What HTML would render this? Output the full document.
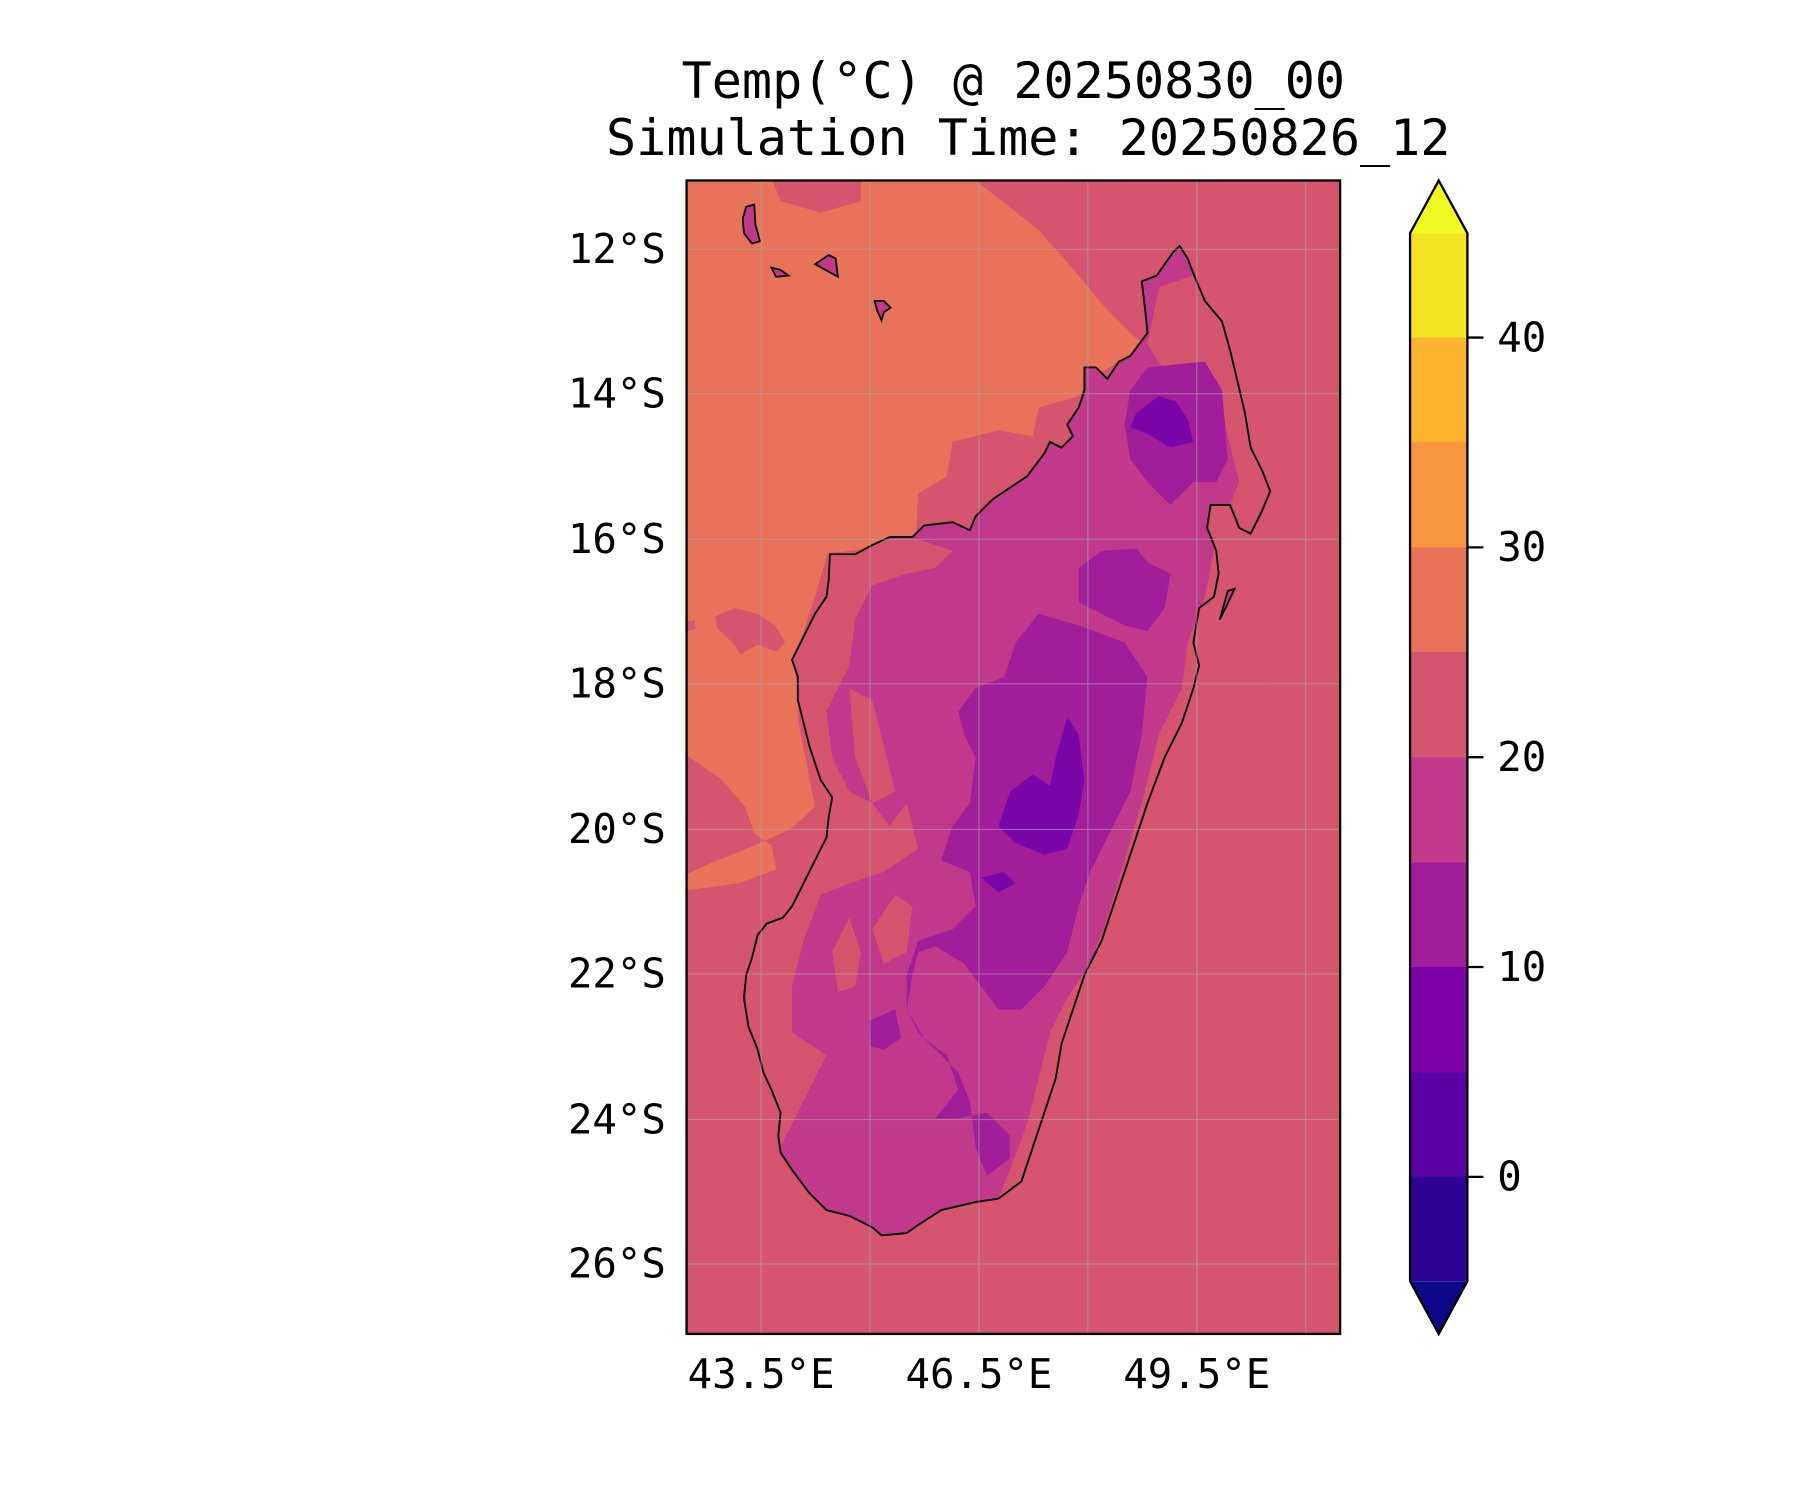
<!DOCTYPE html>
<html><head><meta charset="utf-8"><style>html,body{margin:0;padding:0;background:#fff}svg{display:block}</style></head>
<body>
<svg width="1800" height="1500" viewBox="0 0 1560 1300" xmlns="http://www.w3.org/2000/svg" font-family="'DejaVu Sans Mono','Liberation Mono',monospace">
<rect width="1560" height="1300" fill="#fff"/>
<g transform="translate(0.8,0.4) scale(0.9937)">
<text x="883" y="85" font-size="43.7" text-anchor="middle">Temp(°C) @ 20250830_00</text>
<text x="896" y="135" font-size="43.7" text-anchor="middle">Simulation Time: 20250826_12</text>
<defs><clipPath id="c"><rect x="598" y="157" width="570" height="1006"/></clipPath>
<clipPath id="isl"><path id="ip" d="M1028,214 L1035,225 1040,238 1050,262 1065,280 1072,305 1078,330 1085,360 1090,390 1100,410 1107,428 1100,445 1090,465 1080,460 1072,440 1055,440 1052,460 1060,480 1062,500 1058,520 1045,530 1040,560 1045,580 1040,600 1030,630 1015,660 1000,700 990,730 980,760 970,790 960,820 945,850 935,880 925,910 920,940 910,970 900,1000 890,1030 870,1045 850,1048 820,1055 800,1068 790,1075 768,1077 760,1070 740,1060 720,1055 705,1040 690,1020 680,1005 678,990 680,970 672,950 665,935 660,915 652,895 648,870 650,850 655,835 660,815 668,805 682,800 690,790 700,770 710,750 720,730 722,712 725,695 715,680 710,665 705,650 700,630 695,610 695,590 690,575 700,555 710,535 720,520 722,505 723,483 745,483 760,475 775,468 795,468 805,458 830,455 845,462 850,450 865,435 880,425 895,415 910,395 915,385 925,390 935,380 930,370 940,355 945,340 945,320 955,320 965,330 975,315 985,310 1000,290 998,270 995,245 1008,240 1015,230 1022,220 Z"/></clipPath></defs>
<g clip-path="url(#c)">
<rect x="598" y="157" width="570" height="1006" fill="#d5546e"/>
<path fill="#e8735a" d="M598,157 L673,157 680,175 715,185 750,175 750,157 850,157 905,200 940,240 965,270 990,295 1000,300 950,330 940,345 905,355 900,380 870,375 830,385 825,415 800,430 798,470 760,478 721,482 710,520 695,566 695,627 710,703 690,722 666,733 657,726 649,703 628,679 599,659 598,659 Z"/>
<path fill="#e8735a" d="M666,733 L672,737 676,758 643,770 599,776 598,776 598,762 620,752 645,742 Z"/>
<path fill="#d5546e" d="M623,537 L640,530 660,535 675,545 684,560 676,568 660,562 645,570 638,560 625,548 Z"/>
<path fill="#d5546e" d="M598,542 L605,540 606,548 598,550 Z"/>
<use href="#ip" fill="#c0398a"/>
<g clip-path="url(#isl)">
<path fill="#d5546e" d="M1100,300 L1040,240 1010,250 1000,300 1020,330 1060,330 1070,380 1080,420 1060,470 1050,520 1035,560 1030,600 1010,640 995,700 980,750 965,800 950,840 930,870 915,900 905,940 895,980 880,1020 870,1045 900,1050 1000,900 1120,500 Z"/>
<path fill="#d5546e" d="M720,470 L800,470 830,480 815,495 790,500 760,510 745,540 740,580 720,620 725,660 740,690 760,700 775,720 790,700 800,740 770,760 740,770 715,780 700,820 690,860 690,900 720,920 700,960 680,1000 650,900 650,780 700,700 690,560 Z"/>
<path fill="#d5546e" d="M740,600 L760,610 770,650 780,690 760,700 745,660 Z"/>
<path fill="#d5546e" d="M780,780 L795,790 790,830 770,840 760,810 Z"/>
<path fill="#d5546e" d="M740,800 L750,830 745,860 730,865 725,830 Z"/>
<path fill="#a21d9a" d="M1000,320 L1050,315 1065,340 1070,400 1060,420 1040,420 1020,440 1000,420 985,400 980,370 985,340 Z"/>
<path fill="#a21d9a" d="M940,495 L960,480 990,478 1000,490 1020,500 1015,530 1000,550 980,545 960,535 940,525 Z"/>
<path fill="#a21d9a" d="M905,535 L940,545 980,560 1000,590 995,640 985,690 965,730 950,760 940,790 930,830 910,860 890,880 870,880 855,860 840,840 815,825 800,830 795,850 790,880 805,905 825,920 835,950 815,975 835,975 860,970 880,990 880,1010 860,1025 850,1000 845,960 835,935 820,920 800,900 790,880 790,850 800,820 830,810 850,790 845,760 820,750 830,720 845,700 850,660 840,640 835,620 850,600 875,590 885,560 Z"/>
<path fill="#a21d9a" d="M757,890 L780,880 785,905 770,915 758,912 Z"/>
<path fill="#7b06a8" d="M990,360 L1010,345 1025,350 1035,365 1040,385 1020,390 1000,378 985,372 Z"/>
<path fill="#7b06a8" d="M880,690 L900,675 915,685 920,660 930,625 940,640 945,680 940,710 930,740 910,745 885,735 870,720 Z"/>
<path fill="#7b06a8" d="M855,765 L875,760 885,770 870,778 Z"/>
</g>
<use href="#ip" fill="none" stroke="#000" stroke-width="1.6" stroke-linejoin="round"/>
<g fill="#c0398a" stroke="#000" stroke-width="1.5">
<path d="M650,180 L657,178 658,195 662,210 655,212 648,203 647,190 Z"/>
<path d="M672,233 L680,235 687,240 676,241 Z"/>
<path d="M710,230 L722,222 728,225 730,241 Z"/>
<path d="M762,262 L770,262 776,268 770,272 768,279 764,270 Z"/>
<path d="M1070,515 L1076,513 1068,530 1063,540 Z"/>
</g>
<g stroke="#aaa" stroke-width="1" opacity="0.55">
<line x1="663" y1="157" x2="663" y2="1163"/><line x1="758" y1="157" x2="758" y2="1163"/><line x1="853" y1="157" x2="853" y2="1163"/><line x1="948" y1="157" x2="948" y2="1163"/><line x1="1043" y1="157" x2="1043" y2="1163"/><line x1="1138" y1="157" x2="1138" y2="1163"/>
<line x1="598" y1="217" x2="1168" y2="217"/><line x1="598" y1="343" x2="1168" y2="343"/><line x1="598" y1="470" x2="1168" y2="470"/><line x1="598" y1="596" x2="1168" y2="596"/><line x1="598" y1="723" x2="1168" y2="723"/><line x1="598" y1="849" x2="1168" y2="849"/><line x1="598" y1="976" x2="1168" y2="976"/><line x1="598" y1="1102" x2="1168" y2="1102"/>
</g>
</g>
<rect x="598" y="157" width="570" height="1006" fill="none" stroke="#000" stroke-width="2"/>
<g font-size="35.5" text-anchor="end">
<text x="580" y="229">12°S</text><text x="580" y="355">14°S</text><text x="580" y="482">16°S</text><text x="580" y="608">18°S</text><text x="580" y="735">20°S</text><text x="580" y="861">22°S</text><text x="580" y="988">24°S</text><text x="580" y="1114">26°S</text>
</g>
<g font-size="35.5" text-anchor="middle">
<text x="663" y="1210">43.5°E</text><text x="853" y="1210">46.5°E</text><text x="1043" y="1210">49.5°E</text>
</g>
<g>
<polygon points="1229,203 1254,157 1279,203" fill="#f0f921"/>
<rect x="1229" y="203" width="50" height="92" fill="#f4e424"/>
<rect x="1229" y="294" width="50" height="92" fill="#fdb42f"/>
<rect x="1229" y="385" width="50" height="93" fill="#f89540"/>
<rect x="1229" y="477" width="50" height="92" fill="#e8735a"/>
<rect x="1229" y="568" width="50" height="93" fill="#d5546e"/>
<rect x="1229" y="660" width="50" height="93" fill="#c0398a"/>
<rect x="1229" y="752" width="50" height="92" fill="#a21d9a"/>
<rect x="1229" y="843" width="50" height="93" fill="#7e03a8"/>
<rect x="1229" y="935" width="50" height="92" fill="#5a01a5"/>
<rect x="1229" y="1026" width="50" height="91" fill="#2c0594"/>
<polygon points="1229,1117 1254,1163 1279,1117" fill="#0d0887"/>
<polygon points="1229,203 1254,157 1279,203 1279,1117 1254,1163 1229,1117" fill="none" stroke="#000" stroke-width="2"/>
<g stroke="#000" stroke-width="2"><line x1="1279" y1="294" x2="1293" y2="294"/><line x1="1279" y1="477" x2="1293" y2="477"/><line x1="1279" y1="660" x2="1293" y2="660"/><line x1="1279" y1="843" x2="1293" y2="843"/><line x1="1279" y1="1026" x2="1293" y2="1026"/></g>
<g font-size="35.5"><text x="1305" y="306">40</text><text x="1305" y="489">30</text><text x="1305" y="672">20</text><text x="1305" y="855">10</text><text x="1305" y="1038">0</text></g>
</g>
</g>
</svg>
</body></html>
